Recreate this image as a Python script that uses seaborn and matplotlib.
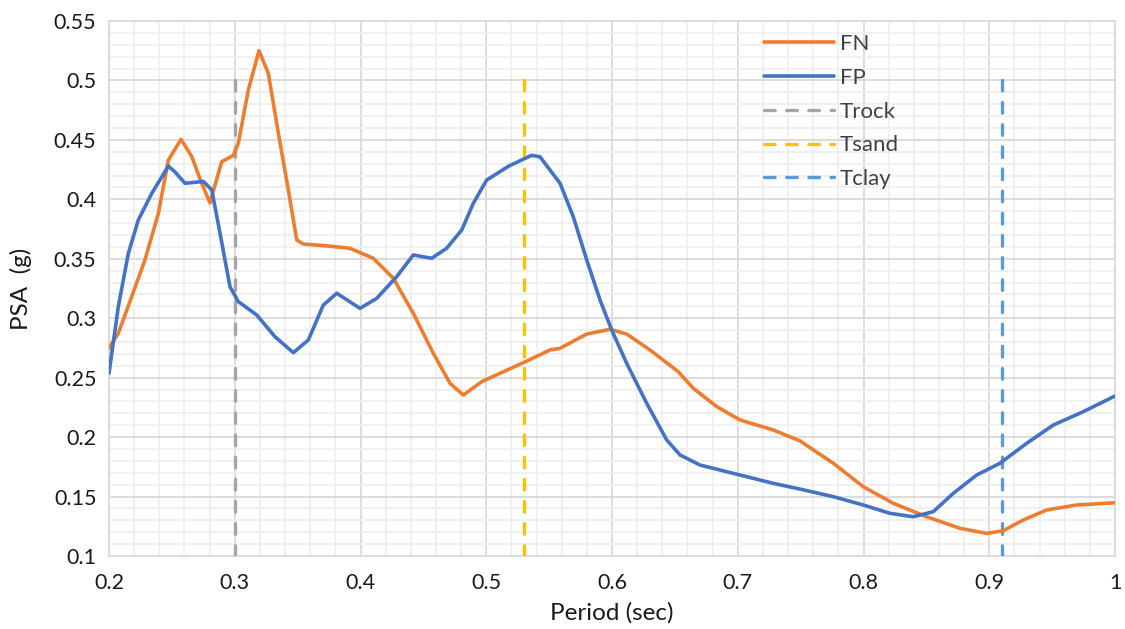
import matplotlib
matplotlib.use("Agg")
import matplotlib.pyplot as plt
import seaborn as sns
import numpy as np
import pandas as pd
from matplotlib.ticker import MultipleLocator

# ---- data ----
fn_period = [0.2, 0.2074, 0.218, 0.2286, 0.2392, 0.2472, 0.2573, 0.2658, 0.2737, 0.2803, 0.2896,
             0.2989, 0.3028, 0.3108, 0.3193, 0.3267, 0.3347, 0.3426, 0.3493, 0.3545, 0.3718,
             0.3916, 0.4102, 0.4261, 0.442, 0.4579, 0.4712, 0.4818, 0.4964, 0.5109, 0.5295,
             0.5507, 0.5587, 0.5799, 0.5984, 0.6117, 0.6302, 0.6527, 0.6647, 0.6833, 0.7018,
             0.7283, 0.7495, 0.776, 0.7998, 0.8237, 0.8502, 0.8767, 0.898, 0.9112, 0.9271,
             0.9457, 0.9695, 1.0]
fn_psa = [0.275, 0.2873, 0.318, 0.349, 0.388, 0.433, 0.4505, 0.436, 0.4135, 0.397, 0.4316,
          0.437, 0.447, 0.492, 0.525, 0.506, 0.4555, 0.408, 0.3658, 0.3624, 0.361,
          0.3588, 0.3504, 0.3336, 0.3041, 0.2705, 0.2452, 0.2354, 0.2466, 0.2537, 0.2626,
          0.2733, 0.2747, 0.2867, 0.2907, 0.2867, 0.2733, 0.255, 0.241, 0.2256, 0.2144,
          0.206, 0.1968, 0.178, 0.1583, 0.1443, 0.133, 0.1233, 0.119, 0.1213, 0.1303,
          0.1387, 0.1429, 0.1448]

fp_period = [0.2, 0.2074, 0.2154, 0.2233, 0.234, 0.2472, 0.2525, 0.2604, 0.275, 0.2817, 0.2883,
             0.2962, 0.3028, 0.3175, 0.332, 0.3466, 0.3585, 0.3704, 0.3811, 0.3996, 0.4129,
             0.4288, 0.442, 0.4566, 0.4685, 0.4805, 0.4897, 0.5003, 0.518, 0.536, 0.5427,
             0.5587, 0.5692, 0.5799, 0.5905, 0.5998, 0.6117, 0.6276, 0.6435, 0.6541, 0.67,
             0.7018, 0.7283, 0.7495, 0.776, 0.7998, 0.821, 0.8396, 0.8555, 0.8714, 0.89,
             0.9085, 0.9298, 0.951, 0.9748, 1.0]
fp_psa = [0.2537, 0.3097, 0.3546, 0.3826, 0.405, 0.428, 0.423, 0.4135, 0.415, 0.408, 0.3714,
          0.3265, 0.314, 0.3027, 0.2844, 0.271, 0.2817, 0.311, 0.321, 0.3083, 0.3167,
          0.335, 0.3532, 0.3504, 0.3588, 0.3742, 0.3966, 0.4162, 0.428, 0.437, 0.4358,
          0.4135, 0.3854, 0.349, 0.3153, 0.29, 0.262, 0.2284, 0.1976, 0.185, 0.1765,
          0.1681, 0.1611, 0.1563, 0.1499, 0.1429, 0.1359, 0.133, 0.1373, 0.1527, 0.1681,
          0.178, 0.1948, 0.2102, 0.2214, 0.2346]

t_names = ["Trock", "Tsand", "Tclay"]
t_periods = [0.3, 0.53, 0.91]
t_range = [0.1, 0.5]

colors = {"FN": "#ED7D31", "FP": "#4472C4", "Trock": "#A5A5A5", "Tsand": "#FFC000", "Tclay": "#5B9BD5"}

# ---- figure ----
sns.set_theme(style="white")
plt.rcParams["font.family"] = ["Lato", "DejaVu Sans"]

fig = plt.figure(figsize=(11.25, 6.29), dpi=100)
ax = fig.add_axes([109 / 1125, 1 - 556 / 629, (1115 - 109) / 1125, (556 - 21) / 629])

df_fn = pd.DataFrame({"Period": fn_period, "PSA": fn_psa})
df_fp = pd.DataFrame({"Period": fp_period, "PSA": fp_psa})

sns.lineplot(data=df_fn, x="Period", y="PSA", ax=ax, color=colors["FN"], lw=2.6,
             sort=False, estimator=None, label="FN", zorder=5)
sns.lineplot(data=df_fp, x="Period", y="PSA", ax=ax, color=colors["FP"], lw=2.6,
             sort=False, estimator=None, label="FP", zorder=5)
for name, tp in zip(t_names, t_periods):
    sns.lineplot(x=[tp, tp], y=t_range, ax=ax, color=colors[name], lw=2.4,
                 estimator=None, label=name, zorder=4,
                 linestyle=(0, (3.2, 3.45)), dash_capstyle="round")

for line in ax.get_lines():
    line.set_solid_joinstyle("round")
    line.set_solid_capstyle("round")

ax.set_xlim(0.2, 1.0)
ax.set_ylim(0.1, 0.55)
ax.xaxis.set_minor_locator(MultipleLocator(0.02))
ax.yaxis.set_minor_locator(MultipleLocator(0.01))
ax.set_xticks(np.round(np.arange(0.2, 1.001, 0.1), 2))
ax.set_xticklabels(["0.2", "0.3", "0.4", "0.5", "0.6", "0.7", "0.8", "0.9", "1"])
ax.set_yticks(np.round(np.arange(0.1, 0.5501, 0.05), 2))
ax.set_yticklabels(["0.1", "0.15", "0.2", "0.25", "0.3", "0.35", "0.4", "0.45", "0.5", "0.55"])

ax.grid(which="major", color="#D9D9D9", lw=1.3, zorder=0)
ax.grid(which="minor", color="#EFEFEF", lw=1.3, zorder=0)
ax.set_axisbelow(True)
ax.tick_params(which="both", length=0, labelsize=15.5, colors="#1a1a1a")
ax.tick_params(axis="y", pad=9)
ax.tick_params(axis="x", pad=12)
for s in ax.spines.values():
    s.set_color("#D9D9D9")
    s.set_linewidth(1.3)

ax.set_xlabel("Period (sec)", fontsize=17.5, color="#1a1a1a", labelpad=7)
ax.set_ylabel("PSA  (g)", fontsize=17.5, color="#1a1a1a", labelpad=16)

leg = ax.legend(loc="upper left", bbox_to_anchor=(744 / 1125, 1 - 14 / 629),
                bbox_transform=fig.transFigure, frameon=False, fontsize=16,
                handlelength=3.15, handletextpad=0.27, labelspacing=0.62)
for t in leg.get_texts():
    t.set_color("#404040")

fig.savefig("out.png", dpi=100)
